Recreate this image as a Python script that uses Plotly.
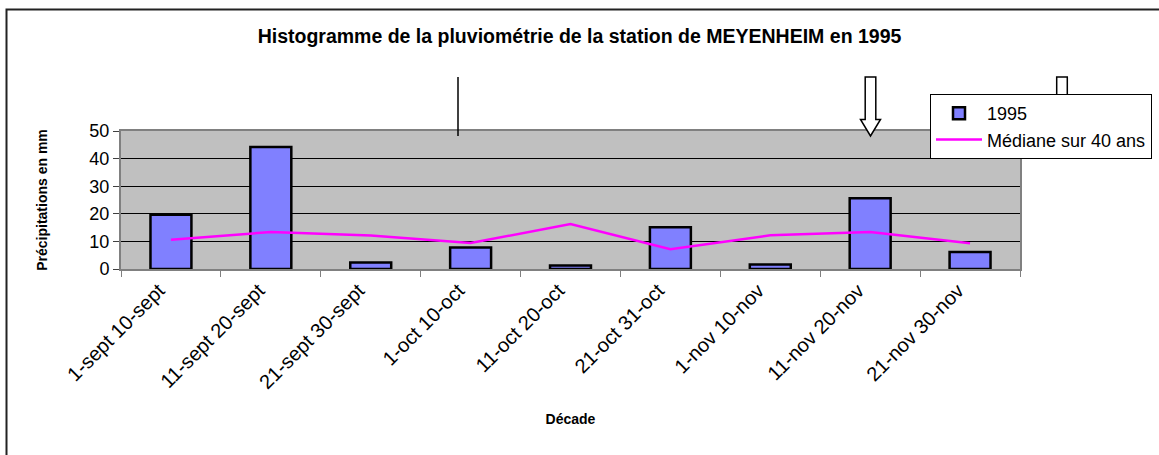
import plotly.graph_objects as go

decades = ["1-sept 10-sept", "11-sept 20-sept", "21-sept 30-sept",
           "1-oct 10-oct", "11-oct 20-oct", "21-oct 31-oct",
           "1-nov 10-nov", "11-nov 20-nov", "21-nov 30-nov"]
pluie_1995 = [19.7, 44.2, 2.4, 7.8, 1.3, 15.1, 1.6, 25.6, 6.2]
mediane_40ans = [10.6, 13.4, 12.1, 9.4, 16.3, 7.2, 12.2, 13.4, 9.3]
y_ticks = [0, 10, 20, 30, 40, 50]

W, H = 1159, 455
ML, MR, MT, MB = 121, 139, 131, 186
PW, PH = W - ML - MR, H - MT - MB

def px(x):
    return (x - ML) / PW

def py(y):
    return (H - MB - y) / PH

FONT = "Arial, Liberation Sans, sans-serif"

fig = go.Figure()
fig.add_trace(go.Bar(
    x=decades, y=pluie_1995, name="1995", width=0.41,
    marker=dict(color="#8080FF", line=dict(color="black", width=2.5)),
))
fig.add_trace(go.Scatter(
    x=decades, y=mediane_40ans, name="Médiane sur 40 ans", mode="lines",
    line=dict(color="#FF00FF", width=2.5),
))

shapes = []
# outer chart border
shapes.append(dict(type="rect", xref="paper", yref="paper",
                   x0=px(6.5), y0=py(470), x1=px(1175), y1=py(9.5),
                   line=dict(color="#222222", width=2), fillcolor="rgba(0,0,0,0)",
                   layer="below"))
# vertical line
shapes.append(dict(type="line", xref="paper", yref="paper",
                   x0=px(458), x1=px(458), y0=py(77), y1=py(136),
                   line=dict(color="black", width=1.5)))

def arrow(cx):
    pts = [(cx - 5.3, 77), (cx + 5.3, 77), (cx + 5.3, 119.5), (cx + 10, 119.5),
           (cx, 136), (cx - 10, 119.5), (cx - 5.3, 119.5)]
    d = "M " + " L ".join(f"{px(a):.5f},{py(b):.5f}" for a, b in pts) + " Z"
    return dict(type="path", xref="paper", yref="paper", path=d,
                fillcolor="white", line=dict(color="black", width=1.5))

shapes.append(arrow(870.5))
shapes.append(arrow(1062))

fig.update_layout(
    width=W, height=H,
    margin=dict(l=ML, r=MR, t=MT, b=MB, autoexpand=False),
    paper_bgcolor="white", plot_bgcolor="#C0C0C0",
    font=dict(family=FONT, color="black", size=17),
    title=dict(text="<b>Histogramme de la pluviométrie de la station de MEYENHEIM en 1995</b>",
               x=0.5, xref="container", xanchor="center",
               y=1 - 36 / H, yref="container", yanchor="middle",
               font=dict(size=19.5, family=FONT, color="black")),
    showlegend=True,
    legend=dict(x=px(930), y=py(94), xanchor="left", yanchor="top",
                bgcolor="white", bordercolor="black", borderwidth=1,
                font=dict(size=18, family=FONT, color="black"),
                itemwidth=46, traceorder="normal"),
    xaxis=dict(
        type="category", tickangle=-45, tickson="boundaries",
        ticks="outside", ticklen=6, tickcolor="#808080", tickwidth=1,
        showline=True, linecolor="#808080", linewidth=2, mirror=True,
        showgrid=False, tickfont=dict(size=20, family=FONT),
        ticklabelshift=-12,
        title=dict(text="<b>Décade</b>", font=dict(size=14, family=FONT), standoff=22),
    ),
    yaxis=dict(
        range=[0, 50], tickvals=y_ticks, ticks="outside", ticklen=6,
        tickcolor="#404040", showline=True, linecolor="#808080", linewidth=2,
        mirror=True, showgrid=True, gridcolor="black", gridwidth=1,
        zeroline=False, tickfont=dict(size=18, family=FONT),
        title=dict(text="<b>Précipitations en mm</b>", font=dict(size=14, family=FONT),
                   standoff=38),
    ),
    shapes=shapes,
)

fig.write_html("out.html", config={"displayModeBar": False},
               post_script="document.body.style.margin='0px';")
